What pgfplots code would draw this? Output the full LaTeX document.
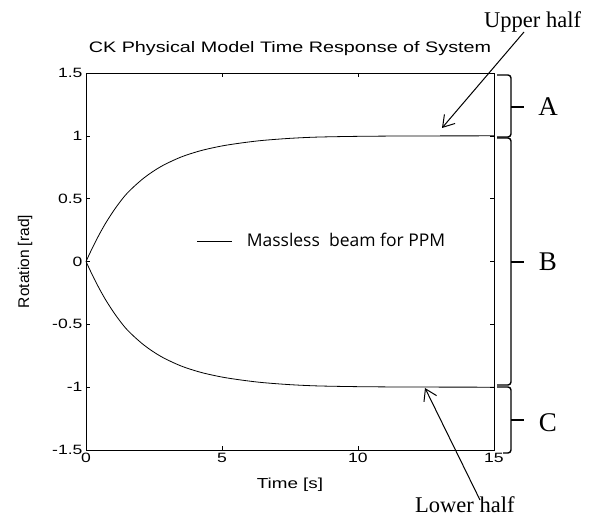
\documentclass[border=0pt]{standalone}
\usepackage{fontspec}
\setmainfont{Liberation Sans}[FakeStretch=1.3]
\newfontfamily\plainsans{Liberation Sans}
\newfontfamily\timesf{Liberation Serif}
\newfontfamily\legfont{Open Sans}
\usepackage{pgfplots}
\usepackage{pgfplotstable}
\pgfplotsset{compat=1.18}
\usetikzlibrary{arrows.meta}

\pgfplotstableread{
t v
0 0
0.25 0.115
0.5 0.22
0.75 0.315
1.1 0.43
1.52 0.545
2.13 0.665
2.75 0.755
3.48 0.83
4.22 0.882
5.01 0.92
5.8 0.946
6.52 0.964
7.5 0.98
8.5 0.99
10 0.996
12 0.999
15 1.0
}\upperdata
\pgfplotstableread{
t v
0 0
0.25 -0.115
0.5 -0.22
0.75 -0.315
1.1 -0.43
1.52 -0.545
2.13 -0.665
2.75 -0.755
3.48 -0.83
4.22 -0.882
5.01 -0.92
5.8 -0.946
6.52 -0.964
7.5 -0.98
8.5 -0.99
10 -0.996
12 -0.999
15 -1.0
}\lowerdata

\begin{document}
\begin{tikzpicture}[x=1pt,y=1pt]
\useasboundingbox (0,0) rectangle (598,520);
\begin{axis}[
  at={(86pt,70pt)}, anchor=south west,
  scale only axis, width=408pt, height=377pt,
  xmin=0, xmax=15, ymin=-1.5, ymax=1.5,
  xtick={0,5,10,15}, xticklabels={0,5,10,15},
  ytick={-1.5,-1,-0.5,0,0.5,1,1.5}, yticklabels={-1.5,-1,-0.5,0,0.5,1,1.5},
  tick align=inside, major tick length=4pt,
  tick style={black, line width=0.6pt},
  axis line style={line width=0.9pt},
  tick label style={font=\fontsize{13.5}{15}\selectfont},
  title={CK Physical Model Time Response of System},
  title style={font=\fontsize{15.2}{17}\selectfont, at={(0.5,1)}, anchor=base, yshift=15pt},
  xlabel={Time [s]},
  xlabel style={font=\fontsize{14.5}{16}\selectfont, at={(0.5,0)}, anchor=base, yshift=-38pt},
  ylabel={Rotation [rad]},
  ylabel style={font=\plainsans\fontsize{15.5}{17}\selectfont, at={(-0.1397,0.5)}, anchor=base},
  legend style={at={(axis cs:4.08,0.163)}, anchor=west, draw=none, fill=none, inner sep=0pt, outer sep=0pt,
    font=\legfont\fontsize{17.5}{20}\selectfont,
    /tikz/every odd column/.append style={column sep=12pt}},
  legend image code/.code={\draw[black, line width=0.8pt] (0pt,0pt) -- (35pt,0pt);},
  clip=false,
]
\addplot[black, line width=0.8pt, smooth] table[x=t, y=v] {\upperdata};
\addlegendentry{Massless\ \ beam for PPM}
\addplot[black, line width=0.8pt, smooth, forget plot] table[x=t, y=v] {\lowerdata};
\end{axis}
% annotations
\node[anchor=base west, inner sep=0pt, font=\timesf\fontsize{22.5}{25}\selectfont] at (484,492) {Upper half};
\node[anchor=base west, inner sep=0pt, font=\timesf\fontsize{22.5}{25}\selectfont] at (415,7) {Lower half};
\draw[line width=1pt, -{Straight Barb[length=11pt,width=14pt]}] (524,488) -- (442,392);
\draw[line width=1pt, -{Straight Barb[length=11pt,width=14pt]}] (480,20) -- (425,132);
% brackets
\draw[line width=1.4pt, rounded corners=3pt] (497,445) -- (511,445) -- (511,383) -- (497,383);
\draw[line width=1.4pt] (511,413) -- (524,413);
\draw[line width=1.4pt, rounded corners=3pt] (497,382) -- (511,382) -- (511,135) -- (497,135);
\draw[line width=1.4pt] (511,258) -- (524,258);
\draw[line width=1.4pt, rounded corners=3pt] (497,133) -- (511,133) -- (511,67) -- (503,67);
\draw[line width=1.4pt] (511,100) -- (524,100);
\node[font=\timesf\fontsize{27}{30}\selectfont, inner sep=0pt] at (548,413) {A};
\node[font=\timesf\fontsize{27}{30}\selectfont, inner sep=0pt] at (548,258) {B};
\node[font=\timesf\fontsize{27}{30}\selectfont, inner sep=0pt] at (548,97) {C};
\end{tikzpicture}
\end{document}
